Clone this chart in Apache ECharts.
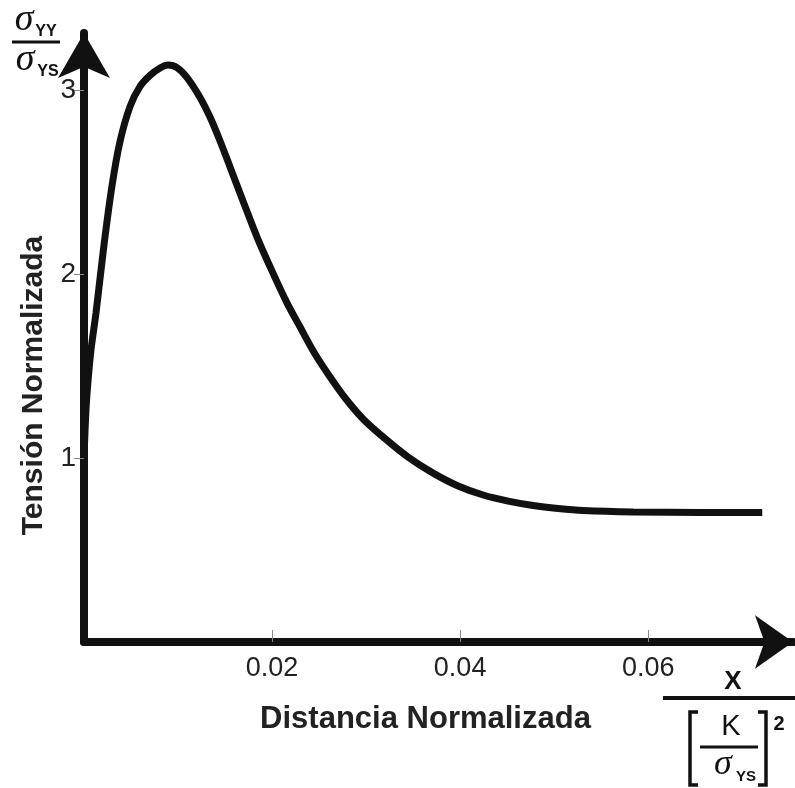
<!DOCTYPE html>
<html>
<head>
<meta charset="utf-8">
<script src="https://cdn.jsdelivr.net/npm/echarts@6/dist/echarts.min.js"></script>
<style>
  html, body { margin: 0; padding: 0; background: #fff; }
  #chart { width: 795px; height: 788px; }
</style>
</head>
<body>
<div id="chart"></div>
<script>
// normalized distance x / (K/σys)^2
const distance = [0, 0.00021, 0.00043, 0.00075, 0.00128, 0.00213, 0.00298, 0.00383, 0.00489, 0.00596,
    0.00702, 0.00809, 0.00894, 0.00989, 0.01096, 0.01234, 0.0134, 0.01447, 0.01553, 0.01691,
    0.0184, 0.02, 0.0216, 0.02298, 0.02457, 0.02617, 0.02777, 0.02968, 0.03181, 0.03447,
    0.03713, 0.03979, 0.04245, 0.04511, 0.04777, 0.05043, 0.05309, 0.0584, 0.06553, 0.07213];
// normalized stress σyy / σys
const stress = [1.0, 1.26, 1.42, 1.59, 1.79, 2.16, 2.48, 2.72, 2.91, 3.02,
    3.08, 3.12, 3.136, 3.122, 3.068, 2.96, 2.853, 2.723, 2.582, 2.397,
    2.201, 2.016, 1.842, 1.712, 1.565, 1.44, 1.326, 1.212, 1.114, 1.005,
    0.918, 0.848, 0.799, 0.766, 0.742, 0.726, 0.715, 0.707, 0.704, 0.704];
const xTicks = [0.02, 0.04, 0.06];
const yTicks = [1, 2, 3];

const ink = '#111';
const sans = '"Liberation Sans", Arial, sans-serif';
const serif = '"Liberation Serif", "Times New Roman", serif';

const chart = echarts.init(document.getElementById('chart'));

const axisLine = {
    show: true,
    symbol: ['none', 'arrow'],
    lineStyle: { color: ink, width: 8 }
};

// little helpers for the hand-set formula pieces
function txt(x, y, text, font, align) {
    return {
        type: 'text', x: x, y: y,
        style: { text: text, font: font, fill: ink, align: align || 'center', verticalAlign: 'middle' }
    };
}
function seg(points, w) {
    return {
        type: 'polyline',
        shape: { points: points },
        style: { stroke: ink, lineWidth: w, fill: null }
    };
}

chart.setOption({
    backgroundColor: '#fff',
    animation: false,
    grid: { left: 84, top: 33, right: 2, bottom: 146 },
    xAxis: {
        type: 'value',
        min: 0,
        max: 0.0754,
        interval: 0.02,
        splitLine: { show: false },
        axisLine: Object.assign({}, axisLine, { symbolSize: [40, 38] }),
        axisTick: { show: true, customValues: xTicks, inside: true, length: 12, lineStyle: { color: '#888', width: 1 } },
        axisLabel: {
            customValues: xTicks,
            formatter: v => v.toFixed(2),
            color: '#222', fontFamily: sans, fontSize: 27, margin: 13
        },
        name: 'Distancia Normalizada',
        nameLocation: 'middle',
        nameGap: 62,
        nameTextStyle: { color: '#222', fontFamily: sans, fontSize: 31, fontWeight: 'bold', padding: [0, 26, 0, 0] }
    },
    yAxis: {
        type: 'value',
        min: 0,
        max: 3.31,
        interval: 1,
        splitLine: { show: false },
        axisLine: Object.assign({}, axisLine, { symbolSize: [39, 45] }),
        axisTick: { show: true, customValues: yTicks, length: 10, lineStyle: { color: '#888', width: 1 } },
        axisLabel: {
            customValues: yTicks,
            color: '#222', fontFamily: sans, fontSize: 28, margin: 8
        },
        name: 'Tensión Normalizada',
        nameLocation: 'middle',
        nameGap: 35,
        nameTextStyle: { color: '#222', fontFamily: sans, fontSize: 30, fontWeight: 'bold', padding: [0, 96, 0, 0] }
    },
    graphic: [
        // σyy / σys on the y axis
        txt(24, 20, 'σ', 'italic 38px ' + serif),
        txt(46, 32, 'YY', 'bold 16px ' + sans),
        seg([[12, 42], [60, 42]], 3),
        txt(25, 60, 'σ', 'italic 38px ' + serif),
        txt(48, 72, 'YS', 'bold 16px ' + sans),
        // x / [K/σys]^2 on the x axis
        txt(733, 682, 'X', 'bold 26px ' + sans),
        seg([[663, 698], [795, 698]], 4),
        seg([[698, 712], [690, 712], [690, 785], [698, 785]], 3.5),
        seg([[758, 712], [766, 712], [766, 785], [758, 785]], 3.5),
        txt(731, 727, 'K', '29px ' + sans),
        seg([[700, 747], [758, 747]], 3),
        txt(723, 765, 'σ', 'italic 36px ' + serif),
        txt(746, 777, 'YS', 'bold 15px ' + sans),
        txt(779, 724, '2', 'bold 20px ' + sans)
    ],
    series: [{
        type: 'line',
        data: distance.map((d, i) => [d, stress[i]]),
        smooth: 0.3,
        showSymbol: false,
        lineStyle: { color: ink, width: 7 },
        clip: false
    }]
});
</script>
</body>
</html>
